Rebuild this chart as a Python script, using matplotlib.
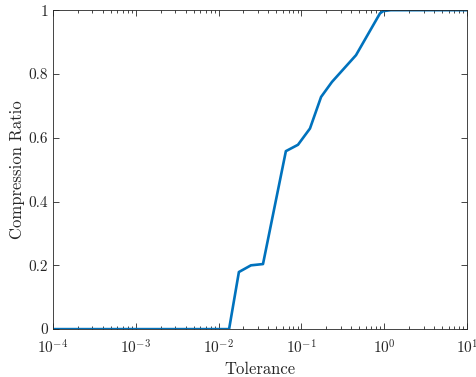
import matplotlib
matplotlib.use("Agg")
import matplotlib.pyplot as plt
from matplotlib.ticker import LogLocator

# values
tolerance = [1e-4, 0.0134, 0.0176, 0.0246, 0.0344, 0.065, 0.091, 0.127,
             0.173, 0.234, 0.457, 0.89, 0.97, 1.2, 10.0]
compression_ratio = [0.0, 0.0, 0.179, 0.200, 0.204, 0.558, 0.578, 0.629,
                     0.728, 0.775, 0.859, 0.990, 0.997, 1.0, 1.0]
y_ticks = [0, 0.2, 0.4, 0.6, 0.8, 1]
y_tick_labels = ["0", "0.2", "0.4", "0.6", "0.8", "1"]

plt.rcParams["font.family"] = "serif"
plt.rcParams["font.serif"] = ["cmr10"]
plt.rcParams["mathtext.fontset"] = "cm"
plt.rcParams["axes.formatter.use_mathtext"] = True

axis_col = "#262626"

fig = plt.figure(figsize=(4.77, 3.77), dpi=100)
ax = fig.add_axes([0.111, 0.127, 0.868, 0.846])

ax.plot(tolerance, compression_ratio, color="#0072BD", linewidth=1.9)

ax.set_xscale("log")
ax.set_xlim(1e-4, 10)
ax.set_ylim(0, 1)
ax.set_yticks(y_ticks)
ax.set_yticklabels(y_tick_labels)
ax.xaxis.set_major_locator(LogLocator(base=10, numticks=10))
ax.xaxis.set_minor_locator(LogLocator(base=10, subs=range(2, 10), numticks=10))

ax.tick_params(which="both", direction="in", top=True, right=True,
               colors=axis_col, labelsize=11, width=0.6)
ax.tick_params(axis="x", which="major", pad=7)
ax.tick_params(which="major", length=4)
ax.tick_params(which="minor", length=2.5)
for s in ax.spines.values():
    s.set_color(axis_col)
    s.set_linewidth(0.6)

ax.set_xlabel("Tolerance", fontsize=12, color=axis_col, labelpad=3)
ax.set_ylabel("Compression Ratio", fontsize=12, color=axis_col, labelpad=2.5)

fig.savefig("out.png", dpi=100)
